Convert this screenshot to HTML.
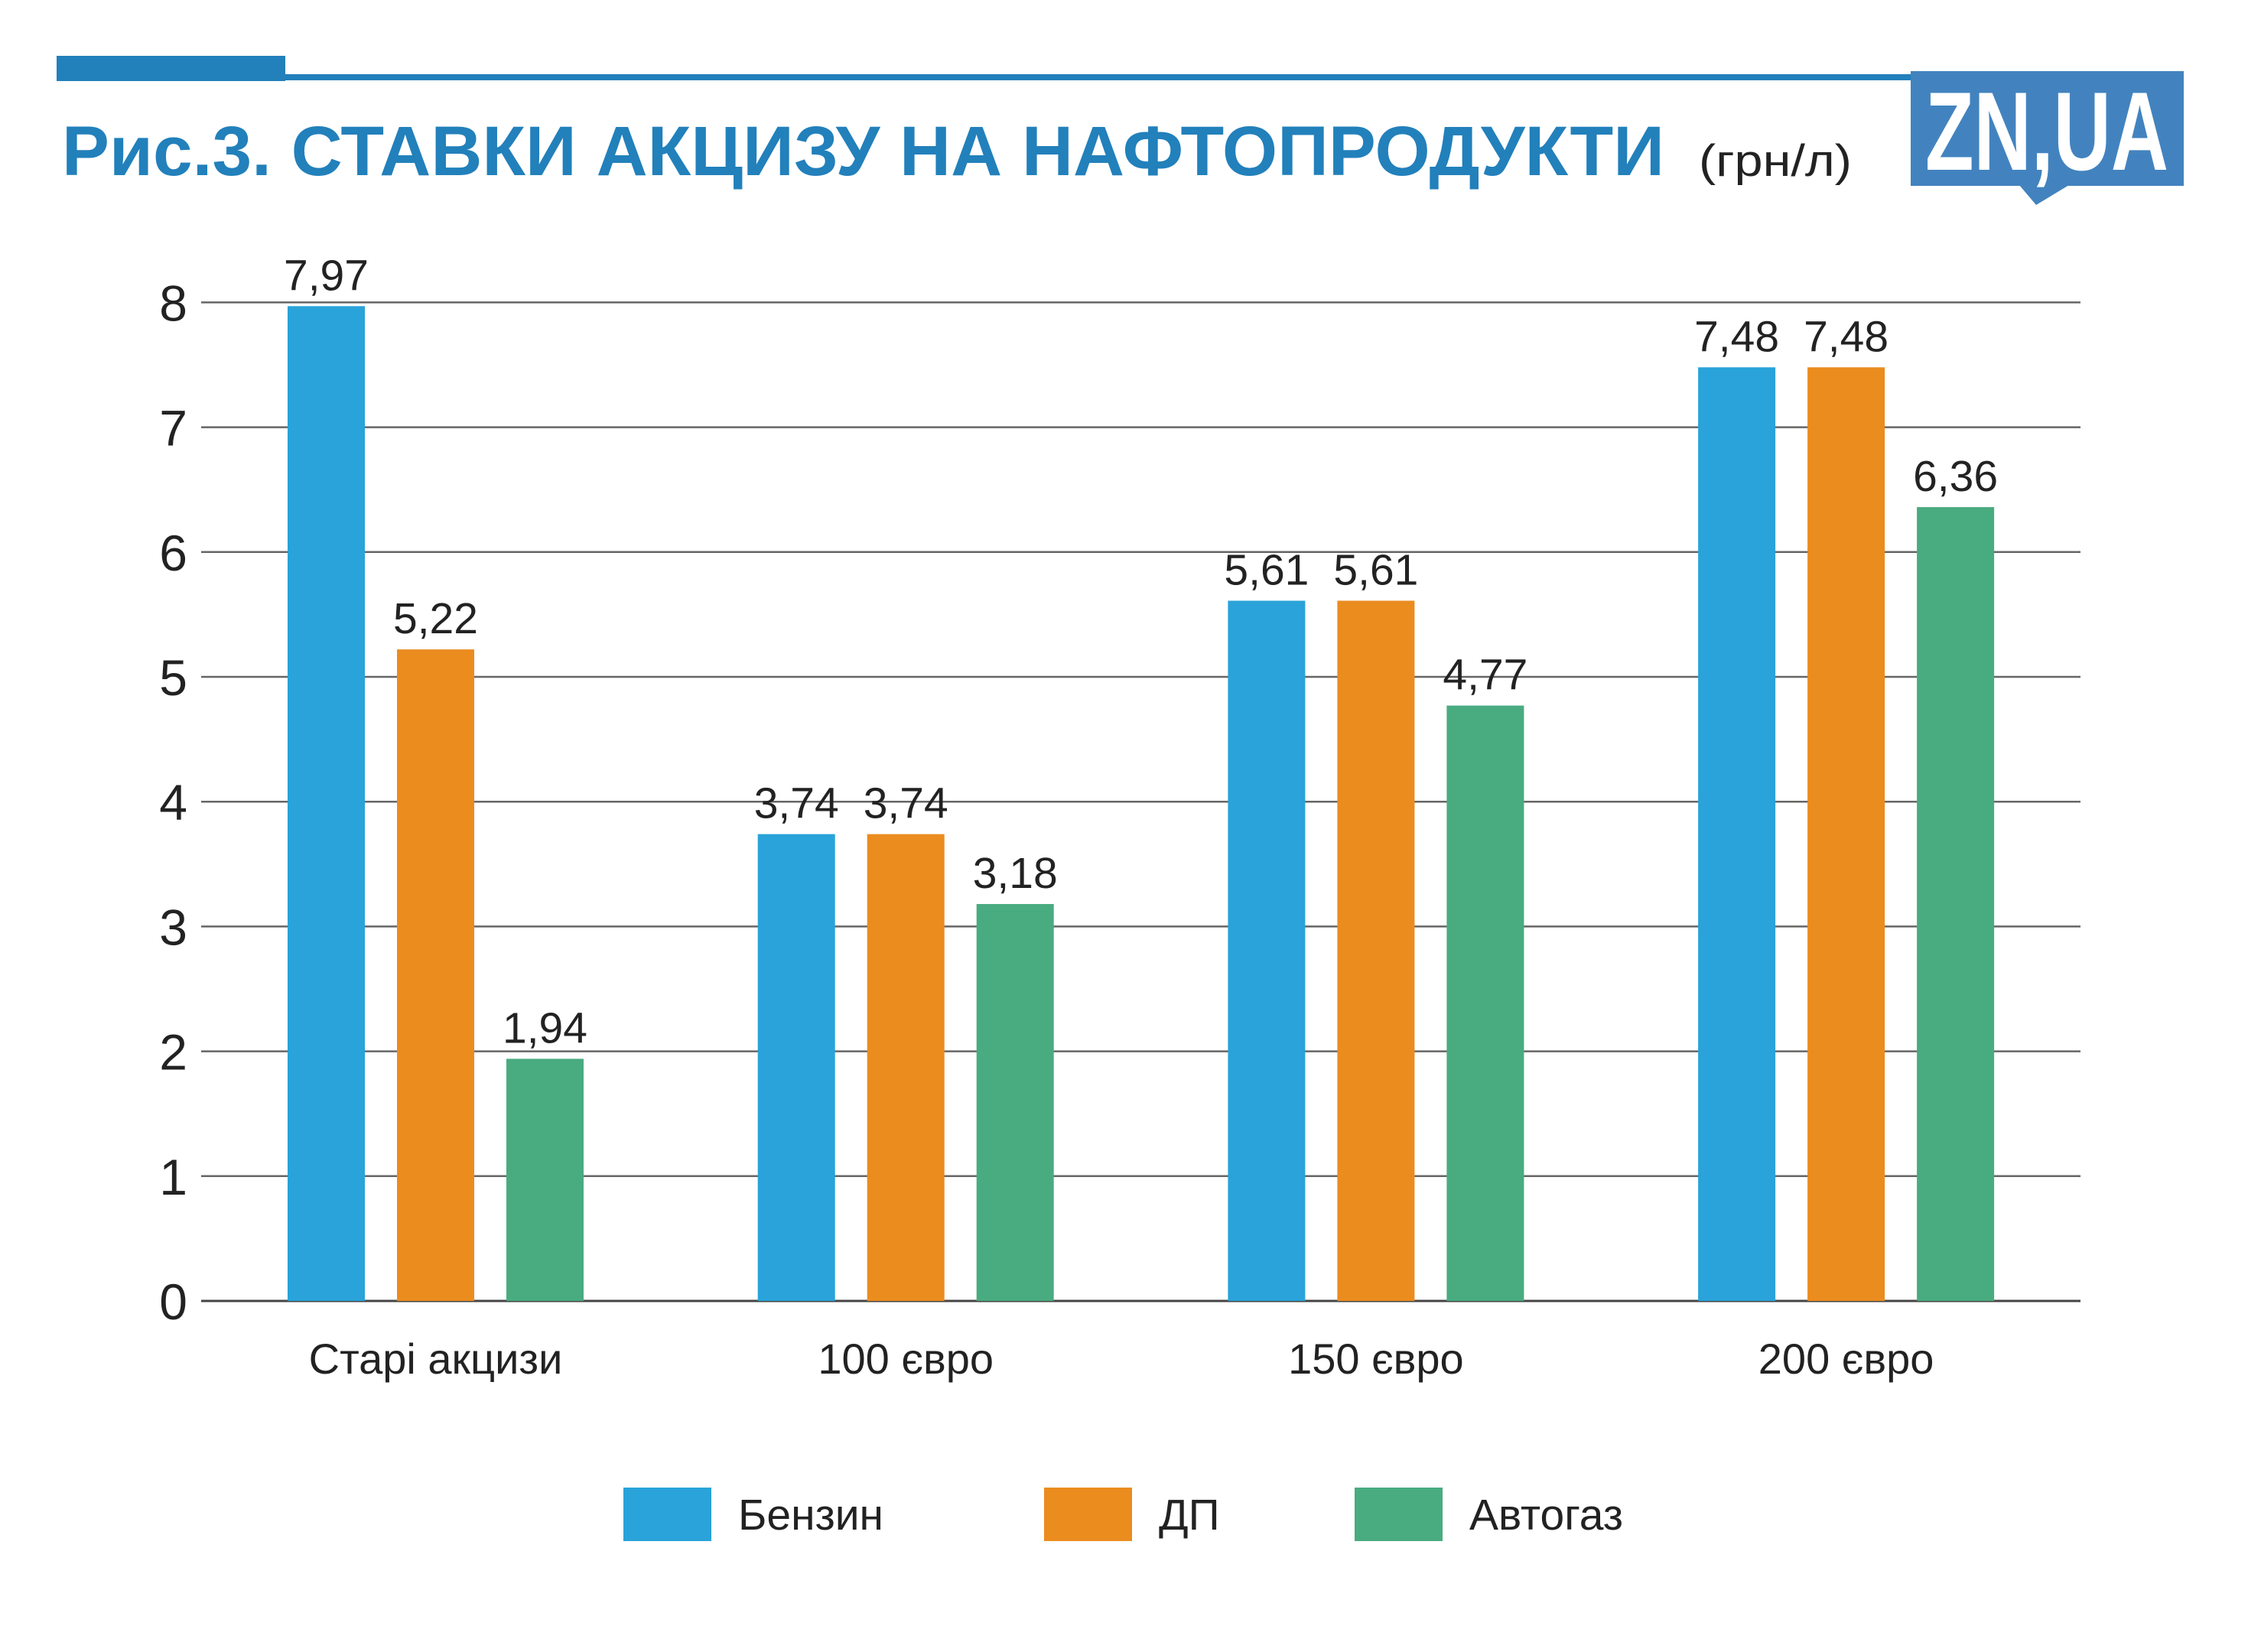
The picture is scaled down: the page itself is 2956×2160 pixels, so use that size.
<!DOCTYPE html>
<html><head><meta charset="utf-8"><style>
html,body{margin:0;padding:0;background:#fff;}
svg{display:block;font-family:"Liberation Sans",sans-serif;}
</style></head><body>
<svg id="chart" width="2956" height="2160" viewBox="0 0 2956 2160">
  <rect x="74" y="73" width="299" height="33" fill="#2280bb"/>
  <rect x="373" y="97" width="2482" height="8" fill="#2280bb"/>
  <text x="81" y="229" font-size="92" font-weight="bold" fill="#2280bb" textLength="2095" lengthAdjust="spacingAndGlyphs">Рис.3. СТАВКИ АКЦИЗУ НА НАФТОПРОДУКТИ</text>
  <text x="2221" y="230" font-size="58" fill="#222" textLength="200" lengthAdjust="spacingAndGlyphs">(грн/л)</text>
  <g>
    <rect x="2498" y="93" width="357" height="150" fill="#4283bf"/>
    <polygon points="2640,242 2662,268 2705,242" fill="#4283bf"/>
    <text x="2676" y="222" font-size="146" font-weight="bold" fill="#fff" text-anchor="middle" textLength="318" lengthAdjust="spacingAndGlyphs">ZN,UA</text>
  </g>
  <g id="grid"></g>
  <g id="bars"></g>
  <g id="labels"></g>
  <g id="legend"></g>
</svg>
<script>
const categories = ["Старі акцизи", "100 євро", "150 євро", "200 євро"];
const benzin = [7.97, 3.74, 5.61, 7.48];
const dp = [5.22, 3.74, 5.61, 7.48];
const avtogaz = [1.94, 3.18, 4.77, 6.36];
const seriesNames = ["Бензин", "ДП", "Автогаз"];
const yTicks = ["0","1","2","3","4","5","6","7","8"];

const NS = "http://www.w3.org/2000/svg";
const colors = ["#29a3d9", "#eb8c1f", "#49ab80"];
const plotL = 263, plotR = 2720, y0 = 1701, unit = 163.2;
const yScale = v => y0 - v * unit;
const xBar = (g, s) => 376 + g * 614.7 + s * 143;
const barW = 101;
function mk(tag, attrs, parent, txt) {
  const e = document.createElementNS(NS, tag);
  for (const k in attrs) e.setAttribute(k, attrs[k]);
  if (txt !== undefined) e.textContent = txt;
  parent.appendChild(e);
  return e;
}
const grid = document.getElementById('grid');
yTicks.forEach((t, i) => {
  const v = parseFloat(t);
  const ln = mk('line', {x1: plotL, x2: plotR, y1: yScale(v), y2: yScale(v), stroke: i === 0 ? '#444' : '#666', 'stroke-width': i === 0 ? 3 : 2.5}, grid);
  
  
  const tx = mk('text', {x: 245, y: yScale(v) + 24, 'font-size': 66, fill: '#222', 'text-anchor': 'end'}, grid, t);
  
  
});
const bars = document.getElementById('bars');
const labels = document.getElementById('labels');
const allSeries = [benzin, dp, avtogaz];
categories.forEach((c, g) => {
  allSeries.forEach((arr, s) => {
    const v = arr[g];
    const r = mk('rect', {x: xBar(g, s), y: yScale(v), width: barW, height: v * unit, fill: colors[s]}, bars);
    
    
    const t = mk('text', {x: xBar(g, s) + barW / 2, y: yScale(v) - 21, 'font-size': 57, fill: '#222', 'text-anchor': 'middle'}, labels, v.toFixed(2).replace('.', ','));
    
    
  });
  const cx = (xBar(g, 0) + xBar(g, 2) + barW) / 2;
  const ct = mk('text', {x: cx, y: 1796, 'font-size': 56, fill: '#222', 'text-anchor': 'middle'}, labels, c);
  
  
});
const legend = document.getElementById('legend');
const legX = [815, 1365, 1771];
seriesNames.forEach((n, i) => {
  const r = mk('rect', {x: legX[i], y: 1945, width: 115, height: 70, fill: colors[i]}, legend);
  
  
  const t = mk('text', {x: legX[i] + 150, y: 2000, 'font-size': 57, fill: '#222'}, legend, n);
  
  
});
</script>
</body></html>
